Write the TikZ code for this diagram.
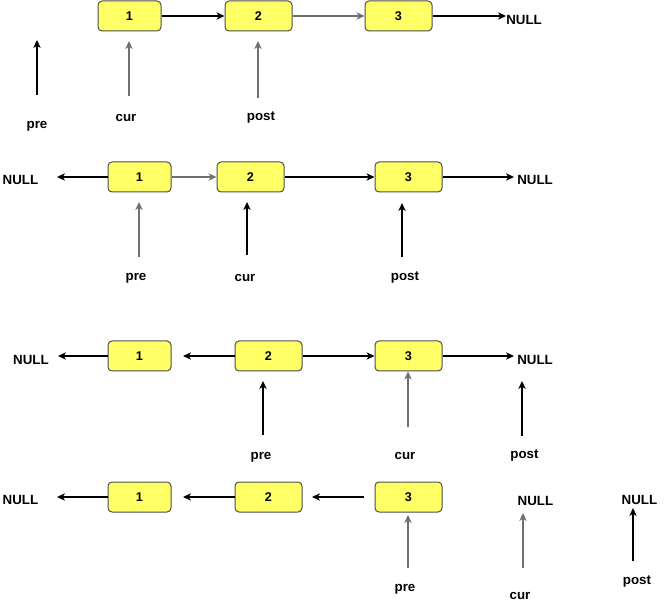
\documentclass[tikz,border=0pt]{standalone}
\usepackage{fontspec}
\setmainfont{Liberation Sans}
\usetikzlibrary{arrows.meta}
\definecolor{nodefill}{HTML}{FFFF66}
\definecolor{boxline}{HTML}{4D4D4D}
\definecolor{glines}{HTML}{707070}
\begin{document}
\begin{tikzpicture}[x=0.75pt,y=-0.75pt,
  box/.style={draw=boxline, fill=nodefill, rounded corners=3pt, minimum width=50.25pt, minimum height=22.5pt, inner sep=0pt, line width=0.75pt, font=\bfseries\fontsize{9.5}{10}\selectfont},
  narrowbox/.style={box, minimum width=47.25pt},
  lbl/.style={inner sep=0pt, font=\bfseries\fontsize{10}{11}\selectfont},
  arr/.style={-{Stealth[length=6pt,width=5.5pt,inset=1.8pt]}, line width=0.8pt, draw=black},
  garr/.style={arr, draw=glines, line width=1pt}]
\useasboundingbox (0,0) rectangle (668,602);

% ---------- Row 1 ----------
\node[narrowbox] (b11) at (129.5,16) {1};
\node[box] (b12) at (258.5,16) {2};
\node[box] (b13) at (398.5,16) {3};
\node[lbl, anchor=west] (n1) at (506,20) {NULL};
\node[lbl] (pre1) at (37,126) {pre};
\node[lbl] (cur1) at (126,118) {cur};
\node[lbl] (post1) at (261,118) {post};
\coordinate (pre1b) at (37,95);
\coordinate (pre1t) at (37,40);
\coordinate (cur1b) at (129,96);
\coordinate (cur1t) at (129,41);
\coordinate (post1b) at (258,98);
\coordinate (post1t) at (258,41);
\draw[arr] (b11.east) -- (b12.west);
\draw[garr] (b12.east) -- (b13.west);
\draw[arr] (b13.east) -- (b13.east -| n1.west);
\draw[arr] (pre1b) -- (pre1t);
\draw[garr] (cur1b) -- (cur1t);
\draw[garr] (post1b) -- (post1t);

% ---------- Row 2 ----------
\node[narrowbox] (b21) at (139.5,177) {1};
\node[box] (b22) at (250.5,177) {2};
\node[box] (b23) at (408.5,177) {3};
\node[lbl] (nl2) at (20.5,180) {NULL};
\node[lbl, anchor=west] (nr2) at (517,180) {NULL};
\node[lbl] (pre2) at (136,278) {pre};
\node[lbl] (cur2) at (245,278) {cur};
\node[lbl] (post2) at (405,278) {post};
\coordinate (nl2t) at (57,177);
\coordinate (pre2b) at (139,257);
\coordinate (pre2t) at (139,202);
\coordinate (cur2b) at (247,255);
\coordinate (cur2t) at (247,202);
\coordinate (post2b) at (402,257);
\coordinate (post2t) at (402,203);
\draw[arr] (b21.west) -- (nl2t);
\draw[garr] (b21.east) -- (b22.west);
\draw[arr] (b22.east) -- (b23.west);
\draw[arr] (b23.east) -- ([xshift=-2.25pt]b23.east -| nr2.west);
\draw[garr] (pre2b) -- (pre2t);
\draw[arr] (cur2b) -- (cur2t);
\draw[arr] (post2b) -- (post2t);

% ---------- Row 3 ----------
\node[narrowbox] (b31) at (139.5,356) {1};
\node[box] (b32) at (268.5,356) {2};
\node[box] (b33) at (408.5,356) {3};
\node[lbl] (nl3) at (31,360) {NULL};
\node[lbl, anchor=west] (nr3) at (517,360) {NULL};
\node[lbl] (pre3) at (261,457) {pre};
\node[lbl] (cur3) at (405,456) {cur};
\node[lbl] (post3) at (524.5,456) {post};
\coordinate (nl3t) at (58,356);
\coordinate (b31t) at (183,356);
\coordinate (pre3b) at (263,435);
\coordinate (pre3t) at (263,381);
\coordinate (cur3b) at (408,427);
\coordinate (post3b) at (522,436);
\coordinate (post3t) at (522,381);
\draw[arr] (b31.west) -- (nl3t);
\draw[arr] (b32.west) -- (b31t);
\draw[arr] (b32.east) -- (b33.west);
\draw[arr] (b33.east) -- ([xshift=-2.25pt]b33.east -| nr3.west);
\draw[arr] (pre3b) -- (pre3t);
\draw[garr] (cur3b) -- (cur3b |- b33.south);
\draw[arr] (post3b) -- (post3t);

% ---------- Row 4 ----------
\node[narrowbox] (b41) at (139.5,497) {1};
\node[box] (b42) at (268.5,497) {2};
\node[box] (b43) at (408.5,497) {3};
\node[lbl] (nl4) at (20.5,500) {NULL};
\node[lbl] (nc4) at (535.5,501) {NULL};
\node[lbl] (np4) at (639.5,500) {NULL};
\node[lbl] (pre4) at (405,589) {pre};
\node[lbl] (cur4) at (520,596) {cur};
\node[lbl] (post4) at (637,582) {post};
\coordinate (nl4t) at (57,497);
\coordinate (b41t) at (183,497);
\coordinate (b43s) at (364,497);
\coordinate (b42t) at (312,497);
\coordinate (pre4b) at (408,568);
\coordinate (pre4t) at (408,515);
\coordinate (cur4b) at (523,568);
\coordinate (cur4t) at (523,513);
\coordinate (post4b) at (633,561);
\coordinate (post4t) at (633,508);
\draw[arr] (b41.west) -- (nl4t);
\draw[arr] (b42.west) -- (b41t);
\draw[arr] (b43s) -- (b42t);
\draw[garr] (pre4b) -- (pre4t);
\draw[garr] (cur4b) -- (cur4t);
\draw[arr] (post4b) -- (post4t);
\end{tikzpicture}
\end{document}
